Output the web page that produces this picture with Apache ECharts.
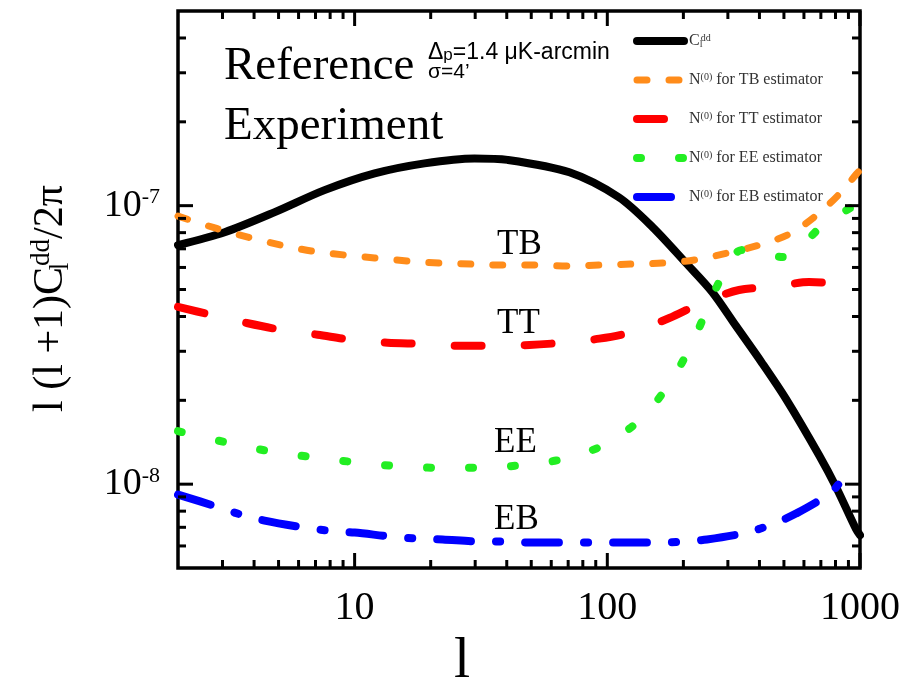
<!DOCTYPE html>
<html>
<head>
<meta charset="utf-8">
<script src="https://cdn.jsdelivr.net/npm/echarts@6/dist/echarts.min.js"></script>
<style>html,body{margin:0;padding:0;background:#fff;}#chart{width:917px;height:684px;}</style>
</head>
<body>
<div id="chart"></div>
<script>
// ---------- data ----------
const ellCdd = [2, 3.06, 4.83, 7.6, 12, 18.9, 29.8, 40.3, 70.8, 111, 151, 205, 260, 323, 410, 510, 689, 804, 964, 1000];
const valCdd = [7.22e-8, 8.03e-8, 9.48e-8, 1.137e-7, 1.306e-7, 1.419e-7, 1.478e-7, 1.46e-7, 1.318e-7, 1.072e-7, 8.38e-8, 6.22e-8, 4.90e-8, 3.70e-8, 2.72e-8, 2.02e-8, 1.27e-8, 9.77e-9, 6.90e-9, 6.56e-9];

const ellTB = [2, 2.82, 3.78, 5.10, 6.77, 9.12, 12.0, 16.2, 21.7, 29.0, 38.4, 51.4, 69.5, 92.9, 124, 165, 221, 298, 399, 533, 689, 841, 973, 1000];
const valTB = [9.17e-8, 8.3e-8, 7.71e-8, 7.22e-8, 6.87e-8, 6.65e-8, 6.49e-8, 6.33e-8, 6.22e-8, 6.17e-8, 6.12e-8, 6.12e-8, 6.07e-8, 6.12e-8, 6.17e-8, 6.22e-8, 6.38e-8, 6.76e-8, 7.22e-8, 7.96e-8, 9.4e-8, 1.117e-7, 1.306e-7, 1.34e-7];

const ellTT = [2, 2.72, 3.74, 5.14, 7.14, 9.73, 13.5, 18.6, 25.5, 35.1, 49.2, 66.4, 93, 126, 176, 237, 332, 457, 629, 849, 1000];
const valTT = [4.33e-8, 4.05e-8, 3.79e-8, 3.58e-8, 3.44e-8, 3.30e-8, 3.22e-8, 3.19e-8, 3.14e-8, 3.14e-8, 3.16e-8, 3.22e-8, 3.33e-8, 3.52e-8, 3.95e-8, 4.48e-8, 4.98e-8, 5.11e-8, 5.32e-8, 5.23e-8, 5.15e-8];

const ellEE = [2, 3.03, 4.45, 6.52, 9.55, 14.0, 20.5, 30.3, 43.6, 65.2, 95.5, 139, 187, 227, 267, 342, 497, 708, 929, 1000];
const valEE = [1.55e-8, 1.42e-8, 1.32e-8, 1.256e-8, 1.205e-8, 1.165e-8, 1.146e-8, 1.146e-8, 1.165e-8, 1.225e-8, 1.374e-8, 1.745e-8, 2.51e-8, 3.52e-8, 4.98e-8, 6.93e-8, 6.54e-8, 8.45e-8, 9.88e-8, 1.0e-7];

const ellEB = [2, 2.85, 3.54, 4.40, 6.34, 7.89, 10, 14.1, 17.7, 22.3, 31.8, 39.9, 50.1, 70.8, 89.7, 111, 161, 198, 248, 357, 445, 558, 774, 889, 940];
const valEB = [9.17e-9, 8.30e-9, 7.78e-9, 7.40e-9, 6.98e-9, 6.81e-9, 6.70e-9, 6.48e-9, 6.38e-9, 6.33e-9, 6.22e-9, 6.22e-9, 6.17e-9, 6.17e-9, 6.17e-9, 6.17e-9, 6.17e-9, 6.22e-9, 6.33e-9, 6.70e-9, 7.16e-9, 7.84e-9, 9.40e-9, 1.10e-8, 1.15e-8];

// axis range and tick values
const xMin = 2, xMax = 1000;
const yMin = 5e-9, yMax = 5e-7;
const xMajorTicks = [10, 100, 1000];
const xMinorTicks = [3, 4, 5, 6, 7, 8, 9, 20, 30, 40, 50, 60, 70, 80, 90, 200, 300, 400, 500, 600, 700, 800, 900];
const yMajorTicks = [1e-8, 1e-7];
const yMinorTicks = [6e-9, 7e-9, 8e-9, 9e-9, 2e-8, 3e-8, 4e-8, 5e-8, 6e-8, 7e-8, 8e-8, 9e-8, 2e-7, 3e-7, 4e-7];

// series names and legend texts
const seriesNames = ['Cdd', 'TB', 'TT', 'EE', 'EB'];
const legendTexts = {
  Cdd: 'C{sub|l}{sup|dd}',
  TB: 'N{sup|(0)} for TB estimator',
  TT: 'N{sup|(0)} for TT estimator',
  EE: 'N{sup|(0)} for EE estimator',
  EB: 'N{sup|(0)} for EB estimator'
};
const curveLabels = ['TB', 'TT', 'EE', 'EB'];

// ---------- styles ----------
const SERIF = '"Liberation Serif", "Times New Roman", serif';
const SANS = '"Liberation Sans", Arial, sans-serif';
const colors = { Cdd: '#000000', TB: '#ff8c1a', TT: '#ff0000', EE: '#22ee22', EB: '#0000ff' };
const widths = { Cdd: 8, TB: 7, TT: 8, EE: 8, EB: 8 };
const dashes = { Cdd: 'solid', TB: [10, 22], TT: [27, 43], EE: [4, 38], EB: [34, 25, 4, 25] };

function pairs(xs, ys) { return xs.map((x, i) => [x, ys[i]]); }
const seriesData = {
  Cdd: pairs(ellCdd, valCdd), TB: pairs(ellTB, valTB), TT: pairs(ellTT, valTT),
  EE: pairs(ellEE, valEE), EB: pairs(ellEB, valEB)
};

const chart = echarts.init(document.getElementById('chart'), null, { renderer: 'canvas' });

function isPow10(v) {
  const e = Math.log10(v);
  return Math.abs(e - Math.round(e)) < 1e-6;
}

const TICK_MAJOR = 15, TICK_MINOR = 8, TICK_W = 3;

function xTickRender(params, api) {
  const cs = params.coordSys;
  const x = api.coord([api.value(0), api.value(1)])[0];
  const len = api.value(2) === 1 ? TICK_MAJOR : TICK_MINOR;
  const top = cs.y, bot = cs.y + cs.height;
  const st = { stroke: '#000', lineWidth: TICK_W };
  return { type: 'group', children: [
    { type: 'line', shape: { x1: x, y1: bot, x2: x, y2: bot - len }, style: st },
    { type: 'line', shape: { x1: x, y1: top, x2: x, y2: top + len }, style: st }
  ]};
}
function yTickRender(params, api) {
  const cs = params.coordSys;
  const y = api.coord([api.value(0), api.value(1)])[1];
  const len = api.value(2) === 1 ? TICK_MAJOR : TICK_MINOR;
  const l = cs.x, r = cs.x + cs.width;
  const st = { stroke: '#000', lineWidth: TICK_W };
  return { type: 'group', children: [
    { type: 'line', shape: { x1: l, y1: y, x2: l + len, y2: y }, style: st },
    { type: 'line', shape: { x1: r, y1: y, x2: r - len, y2: y }, style: st }
  ]};
}

const xTickData = xMajorTicks.map(v => [v, yMin, 1]).concat(xMinorTicks.map(v => [v, yMin, 0]));
const yTickData = yMajorTicks.map(v => [xMin, v, 1]).concat(yMinorTicks.map(v => [xMin, v, 0]));

const lineSeries = seriesNames.map(n => ({
  name: n,
  type: 'line',
  data: seriesData[n],
  smooth: 0.3,
  symbol: 'none',
  showSymbol: false,
  silent: true,
  clip: true,
  lineStyle: { color: colors[n], width: widths[n], type: dashes[n], cap: 'round', join: 'round' },
  itemStyle: { color: colors[n] },
  z: 3
}));

const option = {
  backgroundColor: '#ffffff',
  animation: false,
  grid: { left: 178, right: 57, top: 11, bottom: 116, containLabel: false, outerBoundsMode: 'none',
          show: true, borderColor: '#000', borderWidth: 3.5, backgroundColor: 'transparent' },
  xAxis: {
    type: 'log', logBase: 10, min: xMin, max: xMax,
    name: 'l', nameLocation: 'middle', nameGap: 50,
    nameTextStyle: { fontFamily: SERIF, fontSize: 58, color: '#000', padding: [0, 114, 0, 0] },
    axisLine: { show: false }, axisTick: { show: false }, splitLine: { show: false }, minorTick: { show: false },
    axisLabel: {
      margin: 20, fontFamily: SERIF, fontSize: 40, color: '#000',
      showMinLabel: false,
      formatter: v => (isPow10(v) && v >= 10) ? String(Math.round(v)) : ''
    }
  },
  yAxis: {
    type: 'log', logBase: 10, min: yMin, max: yMax,
    name: 'l (l +1)C{sub|l}{sup|dd}/2π', nameLocation: 'middle', nameRotate: 90, nameGap: 104,
    nameTextStyle: {
      fontFamily: SERIF, fontSize: 42, color: '#000', lineHeight: 46, padding: [0, 18, 0, 0],
      rich: {
        sub: { fontFamily: SERIF, fontSize: 27, verticalAlign: 'bottom', lineHeight: 27, width: 1 },
        sup: { fontFamily: SERIF, fontSize: 27, verticalAlign: 'top', lineHeight: 27 }
      }
    },
    axisLine: { show: false }, axisTick: { show: false }, splitLine: { show: false }, minorTick: { show: false },
    axisLabel: {
      margin: 18, fontFamily: SERIF, fontSize: 38, color: '#000',
      showMinLabel: false, showMaxLabel: false,
      formatter: v => isPow10(v) ? '10{sup|' + Math.round(Math.log10(v)) + '}' : '',
      rich: { sup: { fontFamily: SERIF, fontSize: 22, verticalAlign: 'top', lineHeight: 22, padding: [0, 0, 4, 0] } }
    }
  },
  legend: {
    orient: 'vertical', left: 628, top: 28, itemWidth: 47, itemHeight: 14, itemGap: 23,
    selectedMode: false,
    data: seriesNames.map(n => ({
      name: n,
      itemStyle: { opacity: 0 },
      lineStyle: { color: colors[n], width: widths[n], type: dashes[n], cap: 'round' }
    })),
    formatter: name => legendTexts[name],
    textStyle: {
      fontFamily: SERIF, fontSize: 16, color: '#333', lineHeight: 16,
      rich: {
        sup: { fontFamily: SERIF, fontSize: 10, verticalAlign: 'top', lineHeight: 10, color: '#333' },
        sub: { fontFamily: SERIF, fontSize: 10, verticalAlign: 'bottom', lineHeight: 10, width: 1, color: '#333' }
      }
    }
  },
  graphic: [
    { type: 'text', left: 224, top: 43, style: { text: 'Reference', font: '47px ' + SERIF, fill: '#000' } },
    { type: 'text', left: 224, top: 103, style: { text: 'Experiment', font: '47px ' + SERIF, fill: '#000' } },
    { type: 'text', left: 428, top: 41, style: { text: 'Δ{sub|p}=1.4 μK-arcmin', font: '23px ' + SANS, fill: '#000',
        rich: { sub: { font: '17px ' + SANS, verticalAlign: 'bottom', lineHeight: 17 } } } },
    { type: 'text', left: 428, top: 62, style: { text: 'σ=4\u2019', font: '21px ' + SANS, fill: '#000' } },
    { type: 'text', left: 497, top: 227, style: { text: curveLabels[0], font: '35px ' + SERIF, fill: '#000' } },
    { type: 'text', left: 497, top: 306, style: { text: curveLabels[1], font: '35px ' + SERIF, fill: '#000' } },
    { type: 'text', left: 494, top: 425, style: { text: curveLabels[2], font: '35px ' + SERIF, fill: '#000' } },
    { type: 'text', left: 494, top: 502, style: { text: curveLabels[3], font: '35px ' + SERIF, fill: '#000' } }
  ],
  series: lineSeries.concat([
    { name: 'xticks', type: 'custom', renderItem: xTickRender, data: xTickData, silent: true, clip: false, z: 5,
      encode: { x: 0, y: 1 } },
    { name: 'yticks', type: 'custom', renderItem: yTickRender, data: yTickData, silent: true, clip: false, z: 5,
      encode: { x: 0, y: 1 } }
  ])
};

chart.setOption(option);
</script>
</body>
</html>
